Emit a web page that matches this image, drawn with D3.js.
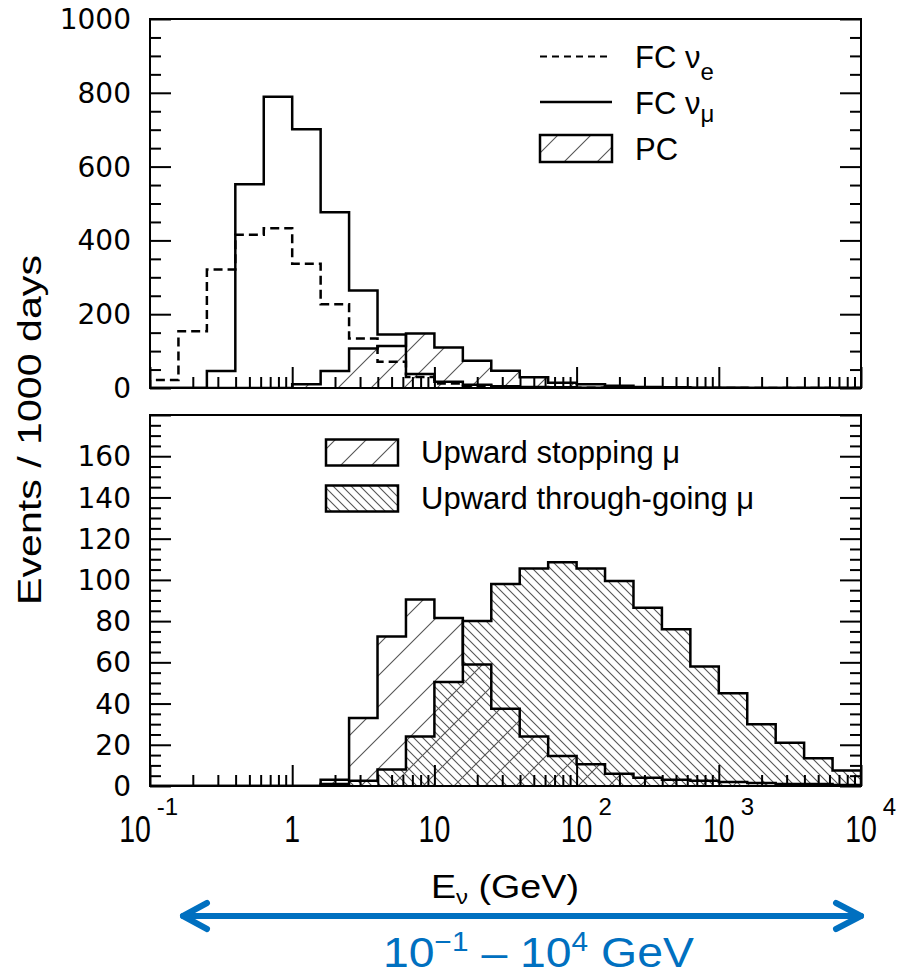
<!DOCTYPE html>
<html>
<head>
<meta charset="utf-8">
<script src="https://cdn.jsdelivr.net/npm/d3@7"></script>
<style>
  body { margin: 0; background: #fff; }
  text { font-family: "Liberation Sans", Arial, sans-serif; fill: #000; }
</style>
</head>
<body>
<svg id="chart" width="902" height="977"></svg>
<script>
// log10(E/GeV) bin edges, 0.2 decade bins
const logEdges = [-1.0, -0.8, -0.6, -0.4, -0.2, 0.0, 0.2, 0.4, 0.6, 0.8, 1.0, 1.2, 1.4,
  1.6, 1.8, 2.0, 2.2, 2.4, 2.6, 2.8, 3.0, 3.2, 3.4, 3.6, 3.8, 4.0];

// top panel, events / 1000 days
const fcNue  = [22, 154, 321, 415, 433, 337, 227, 134, 71, 30, 12, 6, 3, 2, 1, 0.5, 0, 0, 0, 0, 0, 0, 0, 0, 0];
const fcNumu = [0, 0, 46, 552, 789, 701, 476, 264, 145, 38, 17, 9, 5, 3, 2, 1, 0, 0, 0, 0, 0, 0, 0, 0, 0];
const pc     = [0, 0, 0, 0, 0, 10, 46, 107, 114, 148, 110, 74, 47, 29, 14, 10, 6, 3, 2, 1, 0.5, 0, 0, 0, 0];

// bottom panel
const upStop = [0, 0, 0, 0, 0, 0, 3, 33, 72.5, 90.5, 81.5, 59, 37.5, 24, 14.5, 10.5, 6, 4, 3, 2.5, 2, 1.5, 1, 1, 0.5];
const upThru = [0, 0, 0, 0, 0, 0, 1, 2.5, 8, 24, 50.5, 80, 98, 105.5, 108.5, 105.5, 99.5, 86.5, 76, 58, 45, 30, 21, 13.5, 7.5];

// ticks
const topYTicks = [0, 200, 400, 600, 800, 1000];
const botYTicks = [0, 20, 40, 60, 80, 100, 120, 140, 160];
const xTickValues = [0.1, 1, 10, 100, 1000, 10000];
const xTickBase = ["10", "1", "10", "10", "10", "10"];
const xTickExp = ["-1", "", "", "2", "3", "4"];

const svg = d3.select("#chart");
const defs = svg.append("defs");

const x0 = 150, x1 = 861;
const x = d3.scaleLog().domain([0.1, 1e4]).range([x0, x1]);
const edges = logEdges.map(e => Math.pow(10, e));

// hatch patterns
function hatch(id, s, dir, w, color) {
  const p = defs.append("pattern").attr("id", id)
    .attr("patternUnits", "userSpaceOnUse")
    .attr("width", s).attr("height", s);
  const d = dir === "/"
    ? `M0,${s} L${s},0 M${-s/2},${s/2} L${s/2},${-s/2} M${s/2},${s*1.5} L${s*1.5},${s/2}`
    : `M0,0 L${s},${s} M${-s/2},${s/2} L${s/2},${s*1.5} M${s/2},${-s/2} L${s*1.5},${s/2}`;
  p.append("path").attr("d", d).attr("stroke", color).attr("stroke-width", w).attr("fill", "none");
}
hatch("hPC", 33, "/", 1.1, "#555");
hatch("hStop", 31, "/", 1.1, "#555");
hatch("hThru", 9, "\\", 1.1, "#555");

const panels = [
  { top: 19, bottom: 388, max: 1000, major: 200, minor: 50, ticks: topYTicks },
  { top: 415, bottom: 786, max: 180, major: 20, minor: 5, ticks: botYTicks }
];

function histPoints(vals) {
  const pts = [[edges[0], 0]];
  vals.forEach((v, i) => pts.push([edges[i], v]));
  pts.push([edges[vals.length], vals[vals.length - 1]]);
  pts.push([edges[vals.length], 0]);
  return pts;
}

panels.forEach((p, k) => {
  const y = d3.scaleLinear().domain([0, p.max]).range([p.bottom, p.top]);
  p.y = y;
  const g = svg.append("g");
  const clipId = "clip" + k;
  defs.append("clipPath").attr("id", clipId).append("rect")
    .attr("x", x0).attr("y", p.top).attr("width", x1 - x0).attr("height", p.bottom - p.top);
  p.plot = g.append("g").attr("clip-path", `url(#${clipId})`);
  p.line = d3.line().x(d => x(d[0])).y(d => y(d[1])).curve(d3.curveStepAfter);
  p.area = d3.area().x(d => x(d[0])).y0(y(0)).y1(d => y(d[1])).curve(d3.curveStepAfter);

  // axes, ticks pointing inward
  const majV = d3.range(0, p.max + 0.001, p.major);
  const minV = d3.range(0, p.max + 0.001, p.minor).filter(v => v % p.major !== 0);
  const xMaj = x.ticks().filter(v => Math.abs(Math.log10(v) - Math.round(Math.log10(v))) < 1e-6);
  const xMin = x.ticks().filter(v => xMaj.indexOf(v) < 0);
  const axes = [
    [d3.axisLeft(y).tickValues(majV).tickSize(-21), `translate(${x0},0)`],
    [d3.axisLeft(y).tickValues(minV).tickSize(-11), `translate(${x0},0)`],
    [d3.axisRight(y).tickValues(majV).tickSize(-21), `translate(${x1},0)`],
    [d3.axisRight(y).tickValues(minV).tickSize(-11), `translate(${x1},0)`],
    [d3.axisBottom(x).tickValues(xMaj).tickSize(-21), `translate(0,${p.bottom})`],
    [d3.axisBottom(x).tickValues(xMin).tickSize(-11), `translate(0,${p.bottom})`]
  ];
  p.axisG = g.append("g");
  axes.forEach(a => {
    const ag = p.axisG.append("g").attr("transform", a[1]).call(a[0].tickFormat(""));
    ag.select(".domain").remove();
    ag.selectAll("line").attr("stroke", "#000").attr("stroke-width", 2);
  });

  // y tick labels
  g.selectAll(".ylab").data(p.ticks).enter().append("text")
    .attr("x", 131).attr("y", d => y(d)).attr("dy", "0.36em")
    .attr("text-anchor", "end")
    .style("font-family", "'DejaVu Sans', sans-serif")
    .style("font-size", "28px")
    .text(d => d);
});

// top panel histograms
const T = panels[0], B = panels[1];
T.plot.append("path").attr("d", T.area(histPoints(pc))).attr("fill", "url(#hPC)");
T.plot.append("path").attr("d", T.line(histPoints(pc))).attr("fill", "none").attr("stroke", "#000").attr("stroke-width", 2.5);
T.plot.append("path").attr("d", T.line(histPoints(fcNue))).attr("fill", "none").attr("stroke", "#000").attr("stroke-width", 2.5).attr("stroke-dasharray", "9,5");
T.plot.append("path").attr("d", T.line(histPoints(fcNumu))).attr("fill", "none").attr("stroke", "#000").attr("stroke-width", 2.5);

// bottom panel histograms
B.plot.append("path").attr("d", B.area(histPoints(upThru))).attr("fill", "url(#hThru)");
B.plot.append("path").attr("d", B.area(histPoints(upStop))).attr("fill", "url(#hStop)");
B.plot.append("path").attr("d", B.line(histPoints(upThru))).attr("fill", "none").attr("stroke", "#000").attr("stroke-width", 2.5);
B.plot.append("path").attr("d", B.line(histPoints(upStop))).attr("fill", "none").attr("stroke", "#000").attr("stroke-width", 2.5);

// frames
panels.forEach(p => {
  svg.append("rect").attr("x", x0).attr("y", p.top).attr("width", x1 - x0).attr("height", p.bottom - p.top)
    .attr("fill", "none").attr("stroke", "#000").attr("stroke-width", 2);
});

// x tick labels
xTickValues.forEach((v, i) => {
  const cx = x(v) + (xTickExp[i].startsWith("-") ? -15 : 0);
  const lg = svg.append("g").attr("transform", `translate(${cx},842)`);
  const t = lg.append("g").attr("transform", "scale(0.77,1)").append("text")
    .attr("text-anchor", "middle").style("font-size", "37px").text(xTickBase[i]);
  if (xTickExp[i]) {
    const hw = t.node().getComputedTextLength() * 0.77 / 2;
    lg.append("text").attr("x", hw + 6).attr("y", -27)
      .style("font-size", "24px").text(xTickExp[i]);
  }
});

// stretched text helper
function stretched(parent, tx, ty, rot, anchor, width, build) {
  const g = parent.append("g").attr("transform", `translate(${tx},${ty}) rotate(${rot})`);
  const inner = g.append("g");
  const t = inner.append("text").attr("text-anchor", anchor);
  build(t);
  const w = t.node().getBBox().width;
  inner.attr("transform", `scale(${width / w},1)`);
  return t;
}

// axis titles
stretched(svg, 431, 898, 0, "start", 148, t => {
  t.style("font-size", "33px");
  t.append("tspan").text("E");
  t.append("tspan").attr("dy", 6).style("font-size", "21px").text("ν");
  t.append("tspan").attr("dy", -6).text(" (GeV)");
});
stretched(svg, 41, 430, -90, "middle", 350, t => {
  t.style("font-size", "34px").text("Events / 1000 days");
});

// top legend
const legT = svg.append("g");
legT.append("line").attr("x1", 540).attr("x2", 612).attr("y1", 56.5).attr("y2", 56.5)
  .attr("stroke", "#000").attr("stroke-width", 2).attr("stroke-dasharray", "7,5");
legT.append("line").attr("x1", 540).attr("x2", 612).attr("y1", 102).attr("y2", 102)
  .attr("stroke", "#000").attr("stroke-width", 2.5);
legT.append("rect").attr("x", 540).attr("y", 135).attr("width", 72).attr("height", 27)
  .attr("fill", "url(#hPC)").attr("stroke", "#000").attr("stroke-width", 2.5);
const l1 = legT.append("text").attr("x", 635).attr("y", 68).style("font-size", "31px");
l1.append("tspan").text("FC ν");
l1.append("tspan").attr("dy", 12).style("font-size", "24px").text("e");
const l2 = legT.append("text").attr("x", 635).attr("y", 114).style("font-size", "31px");
l2.append("tspan").text("FC ν");
l2.append("tspan").attr("dy", 8).style("font-size", "24px").text("μ");
legT.append("text").attr("x", 635).attr("y", 160).style("font-size", "31px").text("PC");

// bottom legend
const legB = svg.append("g");
legB.append("rect").attr("x", 326).attr("y", 439.5).attr("width", 72).attr("height", 26)
  .attr("fill", "url(#hStop)").attr("stroke", "#000").attr("stroke-width", 2.5);
legB.append("rect").attr("x", 326).attr("y", 485.5).attr("width", 72).attr("height", 26)
  .attr("fill", "url(#hThru)").attr("stroke", "#000").attr("stroke-width", 2.5);
legB.append("text").attr("x", 421).attr("y", 463).style("font-size", "31px").text("Upward stopping μ");
legB.append("text").attr("x", 421).attr("y", 509).style("font-size", "31px").text("Upward through-going μ");

// blue range annotation
const blue = "#0070C0";
const ann = svg.append("g").attr("stroke", blue).attr("stroke-width", 6)
  .attr("stroke-linecap", "round").attr("stroke-linejoin", "round").attr("fill", "none");
ann.append("line").attr("x1", x(0.1) + 33).attr("x2", x(1e4)).attr("y1", 916).attr("y2", 916);
ann.append("path").attr("d", `M${x(0.1) + 57},903 L${x(0.1) + 33},916 L${x(0.1) + 57},929`);
ann.append("path").attr("d", `M${x(1e4) - 25},903 L${x(1e4)},916 L${x(1e4) - 25},929`);

stretched(svg, 383, 967, 0, "start", 311, t => {
  t.style("font-size", "42px").style("fill", blue);
  t.append("tspan").text("10");
  t.append("tspan").attr("dy", -16).style("font-size", "27px").text("−1");
  t.append("tspan").attr("dy", 16).text(" – 10");
  t.append("tspan").attr("dy", -16).style("font-size", "27px").text("4");
  t.append("tspan").attr("dy", 16).text(" GeV");
});
</script>
</body>
</html>
